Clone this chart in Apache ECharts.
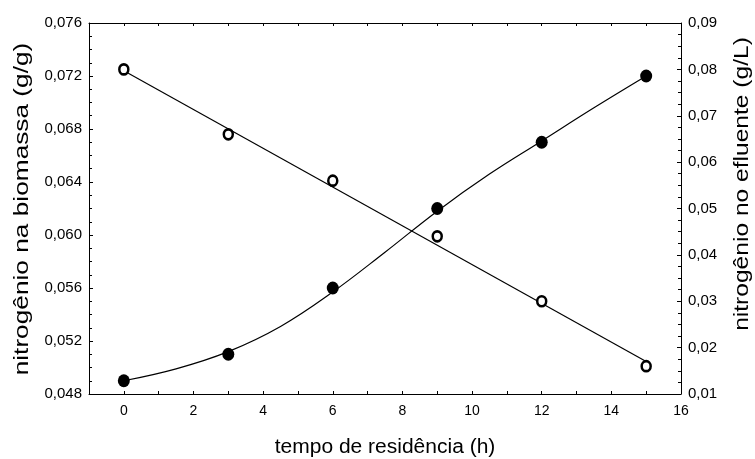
<!DOCTYPE html>
<html>
<head>
<meta charset="utf-8">
<script src="https://cdn.jsdelivr.net/npm/echarts@6/dist/echarts.min.js"></script>
<style>
  html, body { margin: 0; padding: 0; background: #fff; }
  #chart { width: 755px; height: 459px; }
</style>
</head>
<body>
<div id="chart"></div>
<script>
// valores
const tempo = [0, 3, 6, 9, 12, 15];
const nBiomassa = [0.049, 0.051, 0.056, 0.062, 0.067, 0.072];   // eixo esquerdo (cheios)
const nEfluente = [0.080, 0.066, 0.056, 0.044, 0.030, 0.016];   // eixo direito (vazios)

// curvas de ajuste
const ajusteBiomassaX = [0, 1.5, 3, 4.5, 6, 7.5, 9, 10.5, 12, 13.5, 15];
const ajusteBiomassaY = [0.0490, 0.0499, 0.0512, 0.0531, 0.0557, 0.0587, 0.0618, 0.0646, 0.0671, 0.0696, 0.0720];
const ajusteEfluenteX = [0, 15];
const ajusteEfluenteY = [0.0797, 0.0170];

const chart = echarts.init(document.getElementById("chart"));
const font = "Liberation Sans";
const black = "#000";

const pairs = (xs, ys) => xs.map((x, i) => [x, ys[i]]);

const option = {
  backgroundColor: "#fff",
  animation: false,
  grid: { left: 89, right: 74, top: 23, bottom: 65 },
  // títulos dos eixos (esticados como no original)
  graphic: [
    {
      type: "text", x: 385, y: 447, scaleX: 1.05,
      style: { text: "tempo de residência (h)", font: "20px " + font, fill: black, align: "center", verticalAlign: "middle" },
    },
    {
      type: "text", x: 22, y: 209, rotation: Math.PI / 2, scaleX: 1.25,
      style: { text: "nitrogênio na biomassa (g/g)", font: "21px " + font, fill: black, align: "center", verticalAlign: "middle" },
    },
    {
      type: "text", x: 742, y: 184, rotation: Math.PI / 2, scaleX: 1.17,
      style: { text: "nitrogênio no efluente (g/L)", font: "21px " + font, fill: black, align: "center", verticalAlign: "middle" },
    },
  ],
  xAxis: [
    {
      type: "value",
      min: -1,
      max: 16,
      interval: 1,
      axisLine: { onZero: false, lineStyle: { color: black, width: 1 } },
      axisTick: { inside: true, length: 3, lineStyle: { color: black } },
      axisLabel: {
        fontFamily: font, fontSize: 14, color: black, margin: 10,
        formatter: (v) => (v >= 0 && v % 2 === 0 ? String(v) : ""),
      },
      splitLine: { show: false },
    },
    {
      type: "value",
      position: "top",
      min: -1,
      max: 16,
      interval: 1,
      axisLine: { onZero: false, lineStyle: { color: black, width: 1 } },
      axisTick: { inside: true, length: 3, lineStyle: { color: black } },
      axisLabel: { show: false },
      splitLine: { show: false },
    },
  ],
  yAxis: [
    {
      type: "value",
      min: 0.048,
      max: 0.076,
      interval: 0.004,
      axisLine: { show: true, onZero: false, lineStyle: { color: black, width: 1 } },
      axisTick: { show: true, inside: true, length: 4, lineStyle: { color: black } },
      minorTick: { show: true, splitNumber: 4, length: 3, lineStyle: { color: black } },
      axisLabel: {
        fontFamily: font, fontSize: 15, color: black, margin: 7,
        formatter: (v) => v.toFixed(3).replace(".", ","),
      },
      splitLine: { show: false },
    },
    {
      type: "value",
      min: 0.01,
      max: 0.09,
      interval: 0.01,
      position: "right",
      axisLine: { show: true, onZero: false, lineStyle: { color: black, width: 1 } },
      axisTick: { show: true, inside: true, length: 4, lineStyle: { color: black } },
      minorTick: { show: true, splitNumber: 4, length: 3, lineStyle: { color: black } },
      axisLabel: {
        fontFamily: font, fontSize: 15, color: black, margin: 7,
        formatter: (v) => v.toFixed(2).replace(".", ","),
      },
      splitLine: { show: false },
    },
  ],
  series: [
    {
      name: "ajuste biomassa",
      type: "line",
      yAxisIndex: 0,
      data: pairs(ajusteBiomassaX, ajusteBiomassaY),
      smooth: 0.4,
      symbol: "none",
      lineStyle: { color: black, width: 1.2 },
      z: 2,
    },
    {
      name: "ajuste efluente",
      type: "line",
      yAxisIndex: 1,
      data: pairs(ajusteEfluenteX, ajusteEfluenteY),
      symbol: "none",
      lineStyle: { color: black, width: 1.2 },
      z: 2,
    },
    {
      name: "nitrogênio na biomassa",
      type: "scatter",
      yAxisIndex: 0,
      data: pairs(tempo, nBiomassa),
      symbol: "circle",
      symbolSize: [12, 13],
      itemStyle: { color: black, opacity: 1 },
      z: 3,
    },
    {
      name: "nitrogênio no efluente",
      type: "scatter",
      yAxisIndex: 1,
      data: pairs(tempo, nEfluente),
      symbol: "circle",
      symbolSize: [9, 10],
      itemStyle: { color: "#fff", borderColor: black, borderWidth: 2.6, opacity: 1 },
      z: 3,
    },
  ],
};

chart.setOption(option);
</script>
</body>
</html>
